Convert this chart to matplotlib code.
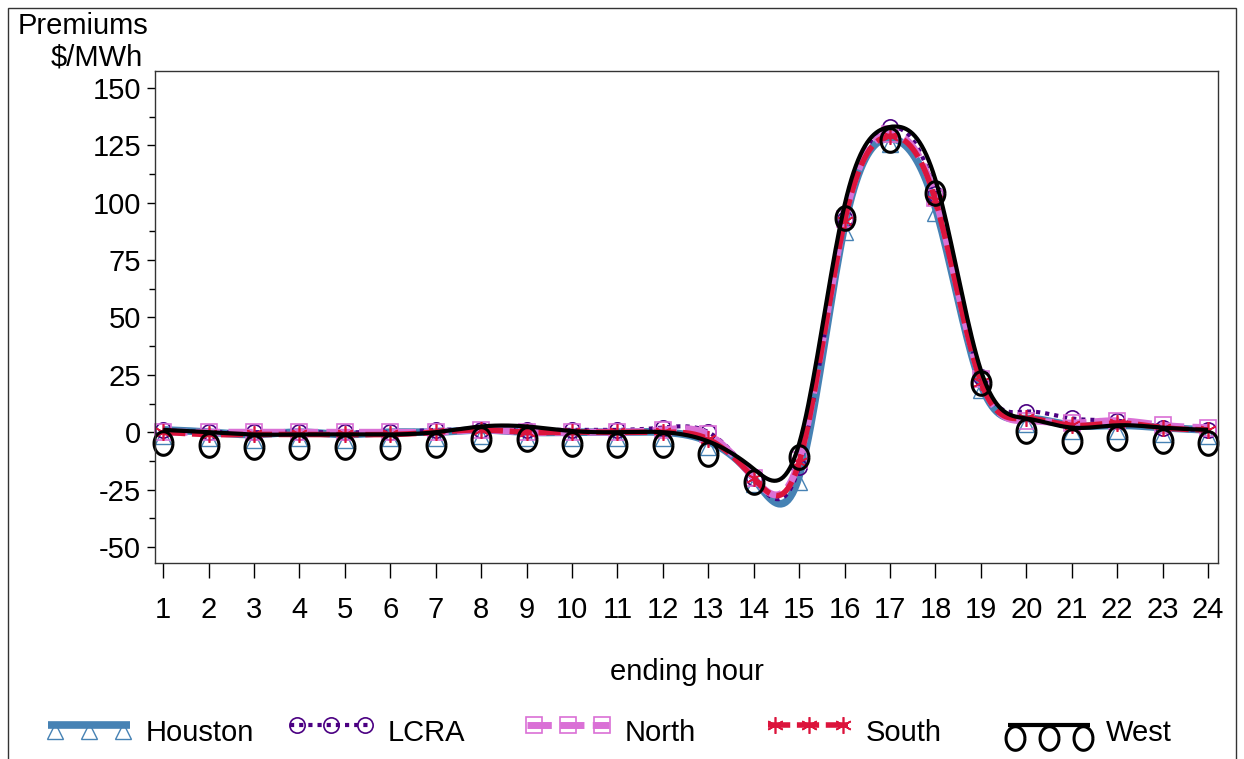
import matplotlib
matplotlib.use("Agg")
import matplotlib.pyplot as plt
import numpy as np
from matplotlib.path import Path
from matplotlib.lines import Line2D
from matplotlib.patches import Rectangle
import matplotlib.transforms as mtransforms

plt.rcParams['font.family'] = ['Liberation Sans', 'DejaVu Sans']
plt.rcParams['axes.unicode_minus'] = False

# hourly premiums, $/MWh
hours = list(range(1, 25))
houston = [1, 0, -1, 0, -1, 0, 0, 1, 0, 0, 0, 0, -4, -20, -19, 90, 128, 98, 21, 6, 3, 3, 2, 1]
lcra = [1, 0, 0, 0, 0, 0, 1, 1, 1, 1, 1, 2, 0, -20, -15, 93, 133, 104, 24, 9, 6, 5, 2, 1]
north = [0, 0, 0, 0, 0, 0, 0, 1, 0, 0, 0, 1, -1, -20, -12, 93, 130, 102, 23, 5, 4, 5, 3, 2]
south = [0, -1, -1, -1, -1, -1, 0, 1, 0, 0, 0, 0, -3, -20, -13, 92, 129, 101, 22, 6, 3, 4, 2, 1]
west = [1, 0, -1, -1, -1, -1, 0, 2.5, 2.5, 0.5, 0, 0, -4, -16, -5, 99, 133, 110, 27, 6, 2, 3, 2, 1]

names = ['Houston', 'LCRA', 'North', 'South', 'West']
yticks = [-50, -25, 0, 25, 50, 75, 100, 125, 150]
FS = 21


def spline(x, y, n=20):
    # natural cubic spline, like SAS interpol=spline
    x = np.asarray(x, float)
    y = np.asarray(y, float)
    k = len(x)
    h = np.diff(x)
    A = np.zeros((k, k))
    b = np.zeros(k)
    A[0, 0] = A[-1, -1] = 1
    for i in range(1, k - 1):
        A[i, i - 1] = h[i - 1]
        A[i, i] = 2 * (h[i - 1] + h[i])
        A[i, i + 1] = h[i]
        b[i] = 3 * ((y[i + 1] - y[i]) / h[i] - (y[i] - y[i - 1]) / h[i - 1])
    c = np.linalg.solve(A, b)
    xs, ys = [], []
    for i in range(k - 1):
        t = np.linspace(0, h[i], n, endpoint=(i == k - 2))
        bi = (y[i + 1] - y[i]) / h[i] - h[i] * (2 * c[i] + c[i + 1]) / 3
        di = (c[i + 1] - c[i]) / (3 * h[i])
        xs.append(x[i] + t)
        ys.append(y[i] + bi * t + c[i] * t ** 2 + di * t ** 3)
    return np.concatenate(xs), np.concatenate(ys)


# taller-than-wide "O" marker for West
th = np.linspace(0, 2 * np.pi, 60)
o_marker = Path(np.column_stack([0.8 * np.cos(th), np.sin(th)]))
star = (6, 2, 0)

styles = [
    dict(color='#4682b4', lw=5.5, ls='-', marker='^', ms=11, mew=1.0, dy=-6),
    dict(color='#4b0082', lw=3.0, ls=(0, (1.0, 1.2)), marker='o', ms=11, mew=1.2, dy=0),
    dict(color='#da70d6', lw=5.0, ls=(0, (3.5, 1.2)), marker='s', ms=11, mew=1.2, dy=0),
    dict(color='#dc143c', lw=4.0, ls=(0, (4, 1.2)), marker=star, ms=12, mew=1.2, dy=0),
    dict(color='black', lw=3.0, ls='-', marker=o_marker, ms=17, mew=2.2, dy=-13),
]
series = [houston, lcra, north, south, west]

fig = plt.figure(figsize=(12.44, 7.59), dpi=100)
ax = fig.add_axes([155 / 1244, 1 - 563 / 759, 1063 / 1244, 492 / 759])

for vals, st in zip(series, styles):
    xs, ys = spline(hours, vals)
    ax.plot(xs, ys, color=st['color'], lw=st['lw'], ls=st['ls'], solid_capstyle='butt')
    tr = mtransforms.offset_copy(ax.transData, fig=fig, x=0, y=st['dy'] * 0.72, units='points')
    ax.plot(hours, vals, ls='none', marker=st['marker'], ms=st['ms'], mfc='none',
            mec=st['color'], mew=st['mew'], transform=tr, clip_on=False)

ax.set_xlim(0.82, 24.22)
ax.set_ylim(-57, 157.4)
ax.set_xticks(hours)
ax.set_xticklabels([str(h) for h in hours])
ax.set_yticks(yticks)
ax.set_yticklabels([str(v) for v in yticks])
ax.set_yticks(np.arange(-50, 151, 12.5), minor=True)
ax.tick_params(axis='x', direction='out', length=11, width=1, pad=13, labelsize=FS)
ax.tick_params(axis='y', which='major', direction='out', length=6, width=1, pad=4, labelsize=FS)
ax.tick_params(axis='y', which='minor', direction='out', length=4, width=1)
for sp in ax.spines.values():
    sp.set_color('#333333')
    sp.set_linewidth(1)
ax.set_xlabel('ending hour', fontsize=FS, labelpad=24)

fig.text(148 / 1244, 1 - 26 / 759, 'Premiums', fontsize=FS, ha='right', va='center')
fig.text(143 / 1244, 1 - 57 / 759, '$/MWh', fontsize=FS, ha='right', va='center')

# legend drawn by hand, like the SAS one
leg_x = [48, 290, 527, 768, 1008]
for x0, name, st in zip(leg_x, names, styles):
    y0 = 1 - 725 / 759
    fig.add_artist(Line2D([x0 / 1244, (x0 + 82) / 1244], [y0, y0], transform=fig.transFigure,
                          color=st['color'], lw=st['lw'], ls=st['ls'], solid_capstyle='butt'))
    mx = [(x0 + 7) / 1244, (x0 + 41) / 1244, (x0 + 75) / 1244]
    my = [y0 + st['dy'] / 759] * 3
    fig.add_artist(Line2D(mx, my, transform=fig.transFigure, ls='none', marker=st['marker'],
                          ms=st['ms'], mfc='none', mec=st['color'], mew=st['mew']))
    fig.text((x0 + 98) / 1244, 1 - 733 / 759, name, fontsize=FS, ha='left', va='center')

fig.add_artist(Rectangle((8 / 1244, -0.05), 1228 / 1244, 1.05 - 8 / 759, transform=fig.transFigure,
                         fill=False, edgecolor='#333333', lw=1))

fig.savefig('out.png', dpi=100)
